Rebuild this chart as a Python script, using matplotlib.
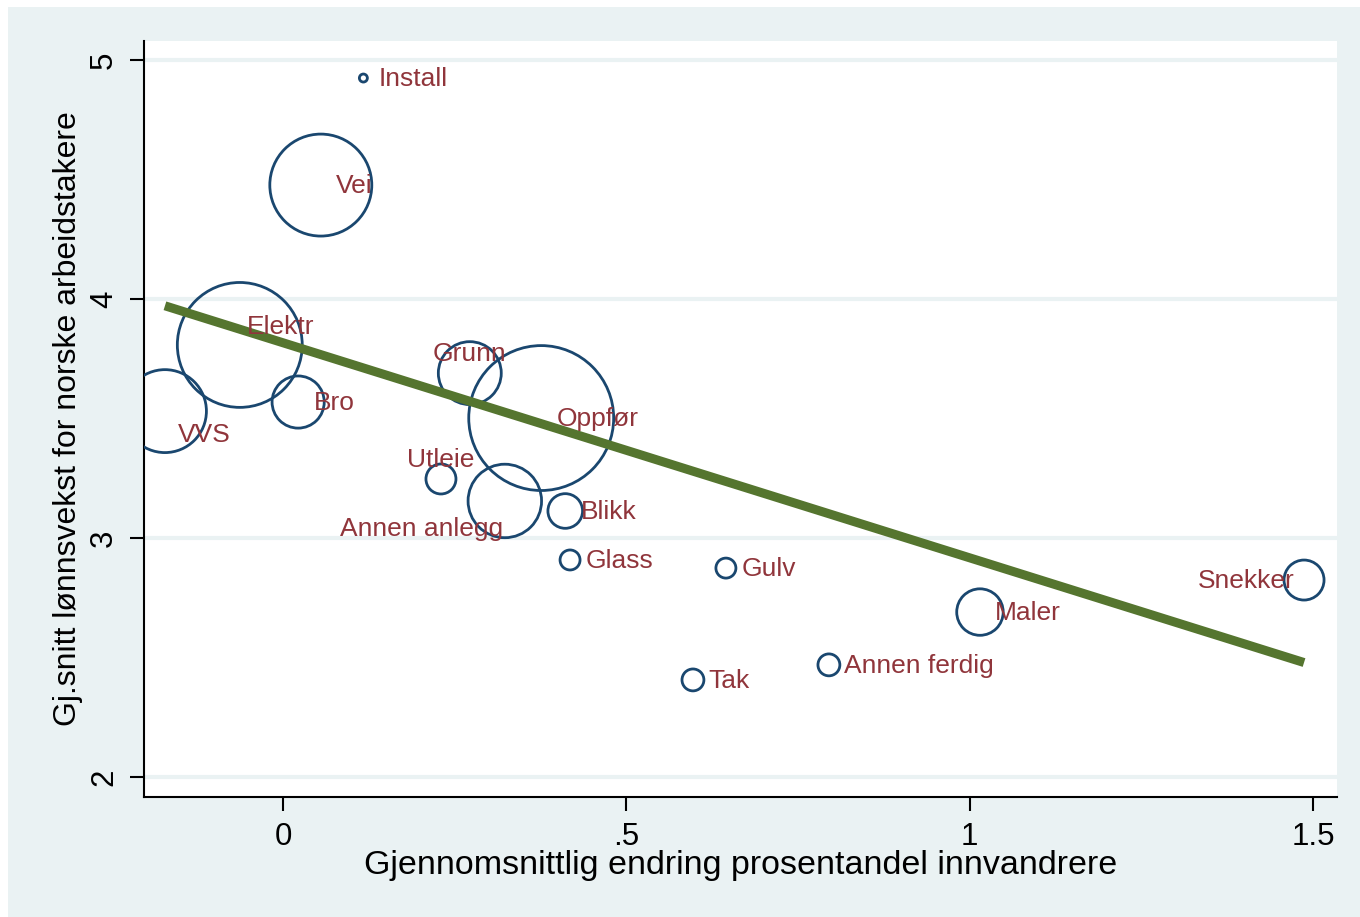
import numpy as np
import matplotlib
matplotlib.use("Agg")
import matplotlib.pyplot as plt
from matplotlib.patches import Rectangle

# --- Data ---
bransjer = ["Install", "Vei", "Elektr", "VVS", "Bro", "Grunn", "Oppfør", "Utleie",
            "Annen anlegg", "Blikk", "Glass", "Gulv", "Tak", "Annen ferdig", "Maler", "Snekker"]
endring_innv = [0.117, 0.055, -0.063, -0.172, 0.022, 0.272, 0.376, 0.230,
                0.323, 0.411, 0.418, 0.645, 0.597, 0.795, 1.015, 1.487]
lonnsvekst = [4.925, 4.477, 3.808, 3.531, 3.569, 3.690, 3.502, 3.247,
              3.155, 3.113, 2.908, 2.874, 2.406, 2.469, 2.690, 2.824]
# relative weights (bubble area)
vekt = [16, 2600, 3900, 1720, 680, 990, 5250, 225,
        1350, 300, 100, 100, 120, 120, 540, 400]
# weighted fit line
fit_konstant = 3.817
fit_stigning = -0.900

# Stata marker label clock positions
mlabpos = [3, 3, 1, 4, 3, 12, 3, 12, 7, 3, 3, 3, 3, 3, 3, 9]

navy = "#1a476f"
maroon = "#90353b"
forest = "#55752f"
bg = "#eaf2f3"

plt.rcParams['font.family'] = ['Liberation Sans', 'DejaVu Sans']

fig = plt.figure(figsize=(13.6, 9.17), dpi=100, facecolor="white")
fig.patches.append(Rectangle((8 / 1360, 0), 1 - 8 / 1360, 1 - 7 / 917,
                             transform=fig.transFigure, facecolor=bg,
                             edgecolor="none", zorder=-10))

ax = fig.add_axes([144 / 1360, 120 / 917, 1193 / 1360, 756 / 917])
ax.set_facecolor("white")

# bubble sizes: radius in px ~ sqrt(vekt); s in pt^2
r_px = np.sqrt(np.array(vekt, dtype=float))
sizes = (2 * r_px * 0.72) ** 2
ax.scatter(endring_innv, lonnsvekst, s=sizes, facecolors="none",
           edgecolors=navy, linewidths=2.0, zorder=3)

# fit line over the range of the data
xs = np.array([min(endring_innv), max(endring_innv)])
ax.plot(xs, fit_konstant + fit_stigning * xs, color=forest, lw=6.5,
        solid_capstyle="butt", zorder=4)

# marker labels
offsets = {
    3: (11, 0, "left", "center"),
    12: (0, 15, "center", "center"),
    1: (5, 14, "left", "center"),
    4: (9, -16, "left", "center"),
    7: (-1, -19, "right", "center"),
    9: (-7, 0, "right", "center"),
}
for navn, x, y, pos in zip(bransjer, endring_innv, lonnsvekst, mlabpos):
    dx, dy, ha, va = offsets[pos]
    ax.annotate(navn, (x, y), xytext=(dx, dy - 1), textcoords="offset points",
                ha=ha, va=va, fontsize=19, color=maroon, zorder=5)

ax.set_xlim(-0.2025, 1.535)
ax.set_ylim(1.916, 5.08)

ax.set_xticks([0, 0.5, 1, 1.5])
ax.set_xticklabels(["0", ".5", "1", "1.5"])
ax.set_yticks([2, 3, 4, 5])
ax.set_yticklabels(["2", "3", "4", "5"], rotation=90, va="center")
ax.tick_params(axis="both", labelsize=22.5, length=10, width=1.5, direction="out",
               color="black", pad=8)
ax.grid(axis="y", color=bg, lw=3, zorder=0)
ax.set_axisbelow(True)

for side in ["top", "right"]:
    ax.spines[side].set_visible(False)
for side in ["left", "bottom"]:
    ax.spines[side].set_linewidth(1.5)

ax.set_xlabel("Gjennomsnittlig endring prosentandel innvandrere", fontsize=24.5)
ax.set_ylabel("Gj.snitt lønnsvekst for norske arbeidstakere", fontsize=23)
ax.xaxis.set_label_coords(0.5, -0.090)
ax.xaxis.label.set_va("center")
ax.yaxis.set_label_coords(-0.0637, 0.5)
ax.yaxis.label.set_va("center")

fig.savefig("out.png", dpi=100, facecolor=fig.get_facecolor())
